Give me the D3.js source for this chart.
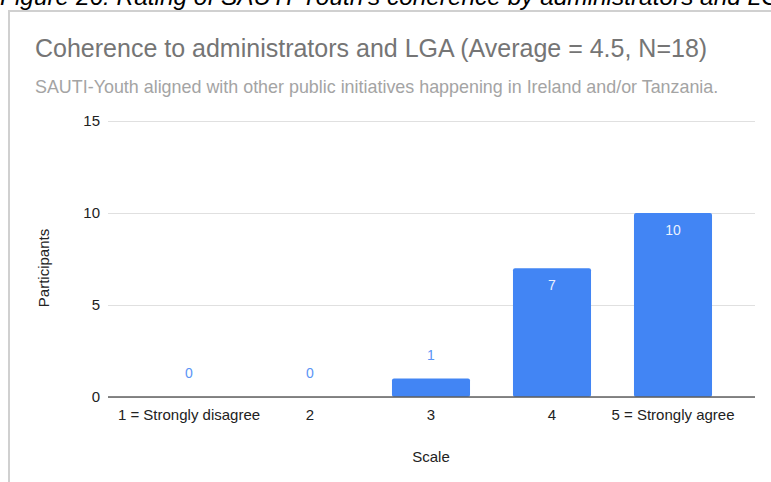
<!DOCTYPE html>
<html>
<head>
<meta charset="utf-8">
<script src="https://cdn.jsdelivr.net/npm/d3@7"></script>
<style>
  html, body { margin: 0; padding: 0; background: #fff; }
  svg { display: block; font-family: "Liberation Sans", Arial, Helvetica, sans-serif; }
</style>
</head>
<body>
<svg id="chart" width="771" height="482"></svg>
<script>
// Survey responses: how many participants chose each point of the scale
const categories = ["1 = Strongly disagree", "2", "3", "4", "5 = Strongly agree"];
const participants = [0, 0, 1, 7, 10];
const yTicks = [0, 5, 10, 15];

const caption = "Figure 26: Rating of SAUTI-Youth's coherence by administrators and LGA";
const title = "Coherence to administrators and LGA (Average = 4.5, N=18)";
const subtitle = "SAUTI-Youth aligned with other public initiatives happening in Ireland and/or Tanzania.";
const xTitle = "Scale";
const yTitle = "Participants";

const svg = d3.select("#chart");
const labelFont = "Liberation Sans, Arial, sans-serif";

// Figure caption above the chart frame
svg.append("text")
  .attr("x", 0).attr("y", 4.5)
  .attr("font-size", 24.4).attr("font-style", "italic")
  .attr("fill", "#000")
  .text(caption);

// Chart frame
svg.append("rect")
  .attr("x", 9).attr("y", 11)
  .attr("width", 800).attr("height", 520)
  .attr("fill", "#fff")
  .attr("stroke", "#d0d0d0").attr("stroke-width", 2);

svg.append("text")
  .attr("x", 35).attr("y", 57)
  .attr("font-size", 25).attr("fill", "#757575")
  .text(title);

svg.append("text")
  .attr("x", 35).attr("y", 93)
  .attr("font-size", 17.9).attr("fill", "#a4a4a4")
  .text(subtitle);

const plot = { left: 108, right: 755, top: 121, bottom: 397 };

const x = d3.scaleBand()
  .domain(categories)
  .range([128.5, 733.5])
  .paddingInner(0.355)
  .paddingOuter(0.1775);

const y = d3.scaleLinear()
  .domain([0, 15])
  .range([plot.bottom, plot.top]);

// Horizontal gridlines with tick labels
const yAxis = svg.append("g")
  .attr("transform", `translate(${plot.left},0)`)
  .call(d3.axisLeft(y).tickValues(yTicks).tickSize(-(plot.right - plot.left)).tickPadding(8));
yAxis.select(".domain").remove();
yAxis.selectAll(".tick line").attr("stroke", "#e0e0e0").attr("stroke-width", 1);
yAxis.selectAll(".tick text").attr("font-size", 15).attr("fill", "#222")
  .attr("font-family", labelFont);

// Bars
svg.append("g").selectAll("rect")
  .data(categories.map((c, i) => ({ c, v: participants[i] })))
  .join("rect")
  .attr("x", d => x(d.c))
  .attr("y", d => y(d.v))
  .attr("width", x.bandwidth())
  .attr("height", d => y(0) - y(d.v))
  .attr("rx", 2)
  .attr("fill", "#4285f4");

// Baseline
svg.append("line")
  .attr("x1", plot.left).attr("x2", plot.right)
  .attr("y1", y(0)).attr("y2", y(0))
  .attr("stroke", "#5f5f5f").attr("stroke-width", 1.5);

// Value labels: inside tall bars, above short ones
svg.append("g").selectAll("text")
  .data(categories.map((c, i) => ({ c, v: participants[i] })))
  .join("text")
  .attr("x", d => x(d.c) + x.bandwidth() / 2)
  .attr("y", d => d.v >= 5 ? y(d.v) + 22 : y(d.v) - 19)
  .attr("text-anchor", "middle")
  .attr("font-size", 14)
  .attr("fill", d => d.v >= 5 ? "#eaf1fe" : "#5b95f5")
  .text(d => d.v);

// Category labels
const xAxis = svg.append("g")
  .attr("transform", `translate(0,${plot.bottom})`)
  .call(d3.axisBottom(x).tickSize(0).tickPadding(12));
xAxis.select(".domain").remove();
xAxis.selectAll(".tick text").attr("font-size", 15).attr("fill", "#222")
  .attr("font-family", labelFont);

// Axis titles
svg.append("text")
  .attr("x", x(categories[2]) + x.bandwidth() / 2).attr("y", 462)
  .attr("text-anchor", "middle")
  .attr("font-size", 15).attr("fill", "#222")
  .text(xTitle);

svg.append("text")
  .attr("transform", "translate(49,268) rotate(-90)")
  .attr("text-anchor", "middle")
  .attr("font-size", 15).attr("fill", "#222")
  .text(yTitle);
</script>
</body>
</html>
